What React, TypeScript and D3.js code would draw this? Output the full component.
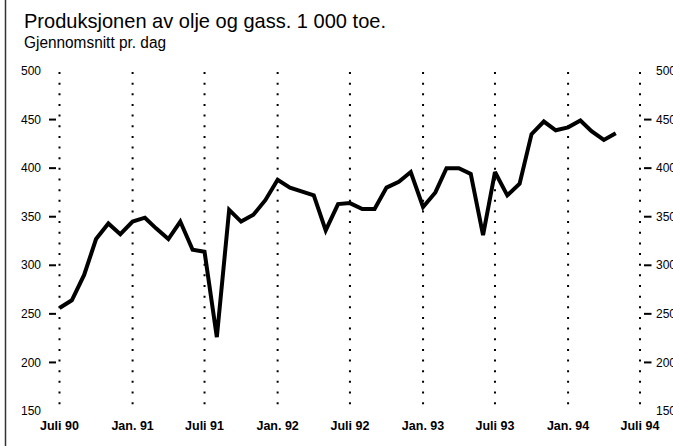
import * as d3 from "d3";

// Produksjon av olje og gass, 1 000 toe, gjennomsnitt pr. dag (månedlig, juli 1990 - mai 1994)
const startMonth = new Date(1990, 6, 1);
const production = [
  256, 264, 290, 327, 343, 332, 345, 349, 338, 327, 345, 316,
  314, 226, 357, 345, 352, 367, 388, 380, 376, 372, 336, 363,
  364, 358, 358, 380, 386, 396, 360, 375, 400, 400, 394, 331,
  396, 372, 384, 435, 448, 439, 442, 449, 438, 429, 436,
];
const xTickLabels = [
  "Juli 90", "Jan. 91", "Juli 91", "Jan. 92", "Juli 92",
  "Jan. 93", "Juli 93", "Jan. 94", "Juli 94",
];
const yTicks = [150, 200, 250, 300, 350, 400, 450, 500];

export default function App() {
  const width = 673;
  const height = 446;

  const x = d3
    .scaleTime()
    .domain([startMonth, new Date(1994, 6, 1)])
    .range([59.5, 640]);
  const y = d3.scaleLinear().domain([150, 500]).range([411, 71]);

  const data = production.map((v, i) => ({
    date: d3.timeMonth.offset(startMonth, i),
    value: v,
  }));
  const tickDates = xTickLabels.map((_, i) => d3.timeMonth.offset(startMonth, i * 6));

  const line = d3
    .line<{ date: Date; value: number }>()
    .x((d) => x(d.date))
    .y((d) => y(d.value));

  const font = "'Liberation Sans Narrow', 'Liberation Sans', Arial, sans-serif";

  return (
    <svg
      width={width}
      height={height}
      style={{ position: "absolute", left: 0, top: 0, background: "white" }}
    >
      <line x1={5.5} x2={5.5} y1={0} y2={height} stroke="#333" strokeWidth={1.5} />

      <text
        x={24}
        y={28}
        fontFamily={font}
        fontSize={21}
        fill="#000"
        textLength={362}
        lengthAdjust="spacingAndGlyphs"
      >
        Produksjonen av olje og gass. 1 000 toe.
      </text>
      <text
        x={24}
        y={48}
        fontFamily={font}
        fontSize={16}
        fill="#000"
        textLength={142}
        lengthAdjust="spacingAndGlyphs"
      >
        Gjennomsnitt pr. dag
      </text>

      {tickDates.map((d, i) => (
        <g key={i}>
          <line
            x1={x(d)}
            x2={x(d)}
            y1={72}
            y2={412}
            stroke="#000"
            strokeWidth={2}
            strokeDasharray="2 8.65"
          />
          <text
            x={x(d)}
            y={430}
            textAnchor="middle"
            fontFamily={font}
            fontSize={12.5}
            fontWeight="bold"
            fill="#000"
          >
            {xTickLabels[i]}
          </text>
        </g>
      ))}

      {yTicks.map((t) => (
        <g key={t}>
          <text
            x={41}
            y={y(t)}
            dy="0.35em"
            textAnchor="end"
            fontFamily={font}
            fontSize={12}
            fill="#000"
          >
            {t}
          </text>
          <text
            x={656}
            y={y(t)}
            dy="0.35em"
            textAnchor="start"
            fontFamily={font}
            fontSize={12}
            fill="#000"
          >
            {t}
          </text>
          {t !== 150 && t !== 500 && (
            <>
              <line x1={49} x2={56} y1={y(t)} y2={y(t)} stroke="#000" strokeWidth={2} />
              <line x1={644} x2={651.5} y1={y(t)} y2={y(t)} stroke="#000" strokeWidth={2} />
            </>
          )}
        </g>
      ))}

      <path
        d={line(data) ?? ""}
        fill="none"
        stroke="#000"
        strokeWidth={4}
        strokeLinejoin="miter"
        strokeMiterlimit={3}
      />
    </svg>
  );
}
